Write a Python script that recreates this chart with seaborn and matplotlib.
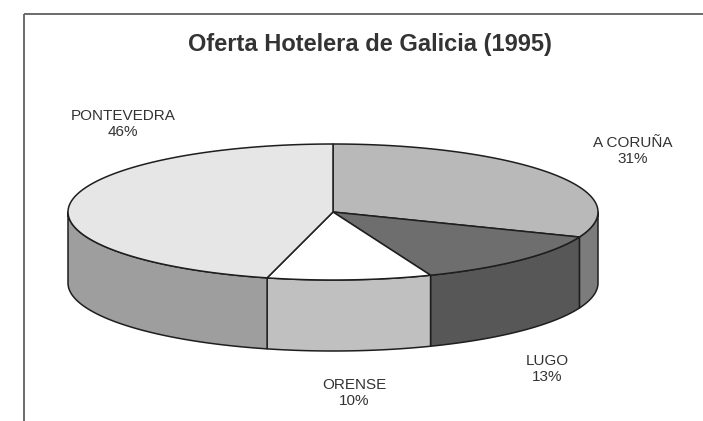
import numpy as np
import matplotlib
matplotlib.use("Agg")
import matplotlib.pyplot as plt
from matplotlib.patches import Polygon
import seaborn as sns

# ---------------- data ----------------
provincias = ["A CORUÑA", "LUGO", "ORENSE", "PONTEVEDRA"]
porcentajes = [31, 13, 10, 46]

# ---------------- styles ----------------
color_tapa = ["#b9b9b9", "#6e6e6e", "#ffffff", "#e6e6e6"]
color_lado = ["#7c7c7c", "#575757", "#c0c0c0", "#9e9e9e"]
pos_etiqueta = {
    "A CORUÑA": (633, 151),
    "LUGO": (547, 369),
    "ORENSE": (354, 393),
    "PONTEVEDRA": (123, 124),
}

# pie geometry (pixel space)
CX, CY = 333, 212
RA, RB = 265, 68
DEPTH = 71

sns.set_style("white")
plt.rcParams['font.family'] = ['Liberation Sans', 'DejaVu Sans']


def punto(t, dy=0):
    r = np.radians(t)
    return CX + RA * np.cos(r), CY - RB * np.sin(r) + dy


def arco(t1, t2, dy=0, n=120):
    ts = np.linspace(t1, t2, n)
    return [punto(t, dy) for t in ts]


fig = plt.figure(figsize=(7.03, 4.21), dpi=100)
ax = fig.add_axes([0, 0, 1, 1])
ax.set_xlim(0, 703)
ax.set_ylim(421, 0)
ax.axis('off')

# slice angles, clockwise from 12 o'clock
total = float(sum(porcentajes))
inicio = 90.0
angulos = []
for p in porcentajes:
    fin = inicio - p / total * 360.0
    angulos.append((inicio, fin))
    inicio = fin

# side walls (front half only)
for (a1, a2), c in zip(angulos, color_lado):
    hi = min(a1, 0.0)
    lo = max(a2, -180.0)
    if hi <= lo:
        continue
    top = arco(hi, lo)
    bottom = arco(lo, hi, dy=DEPTH)
    ax.add_patch(Polygon(top + bottom, closed=True, facecolor=c,
                         edgecolor="#1e1e1e", linewidth=1.1, joinstyle='round'))

# top faces
for (a1, a2), c in zip(angulos, color_tapa):
    pts = [(CX, CY)] + arco(a1, a2)
    ax.add_patch(Polygon(pts, closed=True, facecolor=c,
                         edgecolor="#1e1e1e", linewidth=1.1, joinstyle='round'))

# labels
for nombre, p in zip(provincias, porcentajes):
    x, y = pos_etiqueta[nombre]
    ax.text(x, y, f"{nombre}\n{p}%", ha='center', va='center',
            fontsize=11, color="#333333", linespacing=1.15)

# title
ax.text(370, 44, "Oferta Hotelera de Galicia (1995)", ha='center', va='center',
        fontsize=17, fontweight='bold', color="#333333",
        family=['Liberation Sans Narrow', 'Liberation Sans', 'DejaVu Sans'])

# frame (top and left edge of the scanned box)
ax.plot([24, 24], [14, 421], color="#6a6a6a", linewidth=1.4, solid_capstyle='butt')
ax.plot([24, 703], [14, 14], color="#6a6a6a", linewidth=1.4, solid_capstyle='butt')

fig.savefig("out.png", dpi=100, facecolor="white")
